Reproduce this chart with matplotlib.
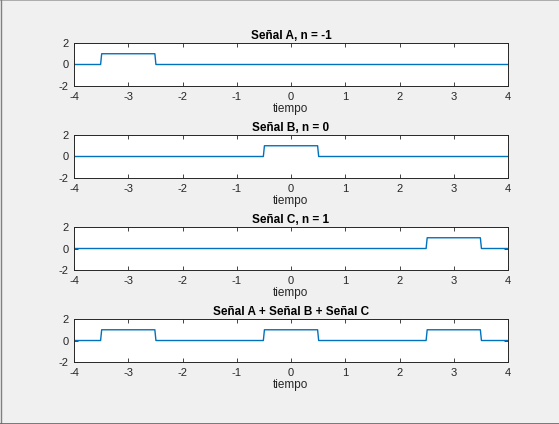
import matplotlib.pyplot as plt
from matplotlib.lines import Line2D

plt.rcParams['font.family'] = ['Liberation Sans', 'DejaVu Sans']
plt.rcParams['axes.unicode_minus'] = False

# pulse signals (x, y)
t_a = [-4, -3.51, -3.49, -2.51, -2.49, 4]
y_a = [0, 0, 1, 1, 0, 0]
t_b = [-4, -0.51, -0.49, 0.49, 0.51, 4]
y_b = [0, 0, 1, 1, 0, 0]
t_c = [-4, 2.49, 2.51, 3.49, 3.51, 4]
y_c = [0, 0, 1, 1, 0, 0]
t_sum = [-4, -3.51, -3.49, -2.51, -2.49, -0.51, -0.49, 0.49, 0.51,
         2.49, 2.51, 3.49, 3.51, 4]
y_sum = [0, 0, 1, 1, 0, 0, 1, 1, 0, 0, 1, 1, 0, 0]

titles = ["Señal A, n = -1", "Señal B, n = 0", "Señal C, n = 1",
          "Señal A + Señal B + Señal C"]
signals = [(t_a, y_a), (t_b, y_b), (t_c, y_c), (t_sum, y_sum)]
xticks = [-4, -3, -2, -1, 0, 1, 2, 3, 4]
yticks = [-2, 0, 2]

fig = plt.figure(figsize=(5.59, 4.24), dpi=100)
fig.patch.set_facecolor('#f0f0f0')

bottoms = [0.7972, 0.5802, 0.3632, 0.1462]
for i in range(4):
    ax = fig.add_axes([0.1324, bottoms[i], 0.7764, 0.1014])
    t, y = signals[i]
    ax.plot(t, y, color='#0072bd', linewidth=1, solid_capstyle='butt')
    ax.set_xlim(-4, 4)
    ax.set_ylim(-2, 2)
    ax.set_xticks(xticks)
    ax.set_yticks(yticks)
    ax.tick_params(direction='in', length=3, width=0.6, top=True, right=True,
                   labelsize=8, colors='#262626', pad=4)
    for s in ax.spines.values():
        s.set_color('#262626')
        s.set_linewidth(0.7)
    ax.set_title(titles[i], fontsize=8.5, fontweight='bold', color='#000000', pad=3)
    ax.set_xlabel("tiempo", fontsize=8.5, color='#262626', labelpad=1)

# window border
fig.add_artist(Line2D([0, 1], [0.999, 0.999], color='#a0a0a0', linewidth=1.2))
fig.add_artist(Line2D([0.001, 0.001], [0, 1], color='#808080', linewidth=1))
fig.add_artist(Line2D([0, 1], [0.001, 0.001], color='#646464', linewidth=1.2))

plt.savefig("out.png", dpi=100, facecolor=fig.get_facecolor())
